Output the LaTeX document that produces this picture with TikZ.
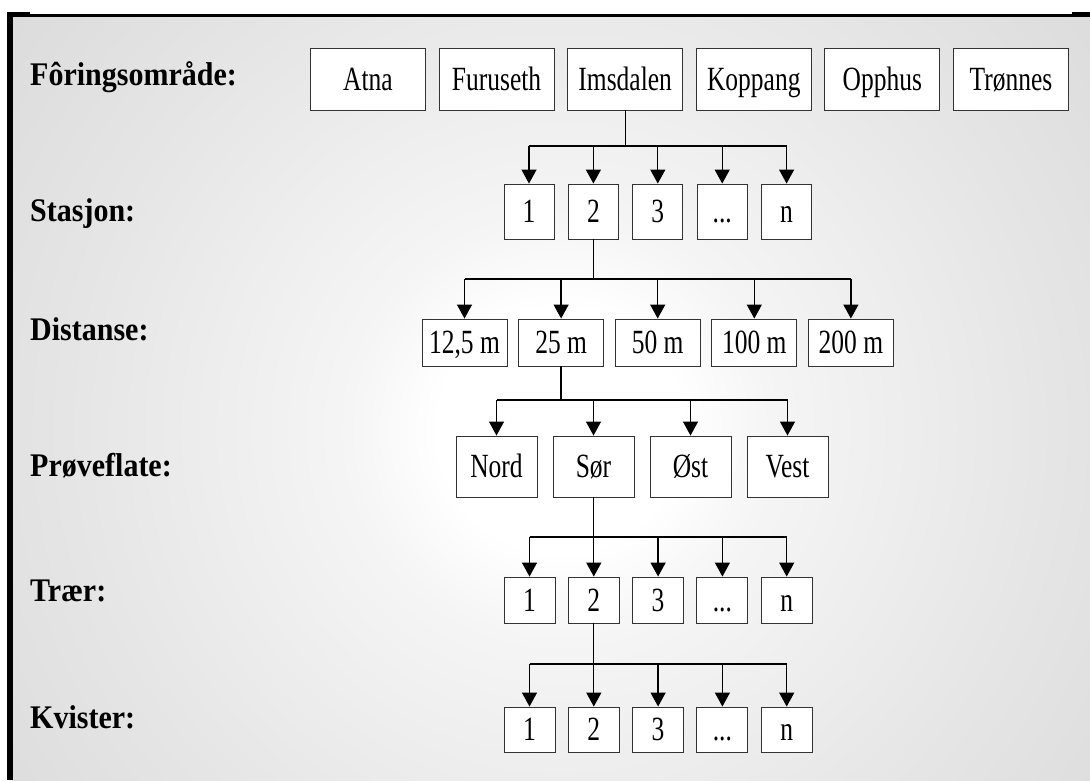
\documentclass[tikz,border=0pt]{standalone}
\usepackage{fontspec}
\setmainfont{Liberation Serif}
\usetikzlibrary{arrows.meta}
\newcommand\tdots{...}
\newcommand\bxt[1]{\scalebox{1}[1.33]{#1}}
\newcommand\lbt[1]{\scalebox{1}[1.1]{#1}}
\pgfdeclareradialshading{bgrings}{\pgfpoint{0bp}{0bp}}{%
  color(0bp)=(white);
  color(4bp)=(white);
  color(7bp)=(black!4);
  color(16bp)=(black!10);
  color(28bp)=(black!17);
  color(45bp)=(black!24);
  color(50bp)=(black!25)}
\tikzset{
  box/.style={draw=black!80, line width=0.9pt, fill=white, inner sep=0pt,
    text height=22.3pt, text depth=0pt,
    font=\fontsize{25.5}{30}\selectfont},
  lvl/.style={anchor=base west, inner sep=0pt, font=\fontsize{30}{36}\selectfont\bfseries},
  conn/.style={line width=1.3pt, draw=black},
  arr/.style={conn, -{Triangle[width=15pt,length=14pt]}}
}
\begin{document}
\begin{tikzpicture}[x=1pt,y=-1pt]
\useasboundingbox (0,0) rectangle (1090,780);
% background
\begin{scope}
  \clip (12,16.5) rectangle (1090,780);
  \shade[shading=bgrings] (560,430) circle (760);
\end{scope}
% frame
\fill[black] (7,12) rectangle (12.5,780);
\fill[black] (7,12) rectangle (30,16.5);
\fill[black] (12,14) rectangle (1090,16.5);
\fill[black] (1072,12) rectangle (1090,16.5);

% level labels
\node[lvl] (l1) at (30,85) {\lbt{Fôringsområde:}};
\node[lvl] (l2) at (30,221) {\lbt{Stasjon:}};
\node[lvl] (l3) at (30,340) {\lbt{Distanse:}};
\node[lvl] (l4) at (30,476) {\lbt{Prøveflate:}};
\node[lvl] (l5) at (30,601) {\lbt{Trær:}};
\node[lvl] (l6) at (30,728) {\lbt{Kvister:}};

% row 1
\foreach \n/\t [count=\i from 0] in {a1/Atna,a2/Furuseth,a3/Imsdalen,a4/Koppang,a5/Opphus,a6/Trønnes}
  \node[box, minimum width=115pt, minimum height=62pt] (\n) at (368+128.6*\i,79) {\bxt{\t}};

% row 2
\foreach \n/\t [count=\i from 0] in {s1/1,s2/2,s3/3,s4/\tdots,s5/n}
  \node[box, minimum width=50pt, minimum height=55pt] (\n) at (529+64.4*\i,211.5) {\bxt{\t}};

% row 3
\foreach \n/\t [count=\i from 0] in {d1/{12,5 m},d2/25 m,d3/50 m,d4/100 m,d5/200 m}
  \node[box, minimum width=85pt, minimum height=47pt] (\n) at (464.5+96.6*\i,342.5) {\bxt{\t}};

% row 4
\foreach \n/\t [count=\i from 0] in {p1/Nord,p2/Sør,p3/Øst,p4/Vest}
  \node[box, minimum width=81pt, minimum height=61pt] (\n) at (496.5+97*\i,466.5) {\bxt{\t}};

% row 5
\foreach \n/\t [count=\i from 0] in {t1/1,t2/2,t3/3,t4/\tdots,t5/n}
  \node[box, minimum width=51pt, minimum height=46pt] (\n) at (529.5+64.3*\i,600) {\bxt{\t}};

% row 6
\foreach \n/\t [count=\i from 0] in {k1/1,k2/2,k3/3,k4/\tdots,k5/n}
  \node[box, minimum width=51pt, minimum height=45pt] (\n) at (529.5+64.3*\i,729.5) {\bxt{\t}};

% buses
\coordinate (b1) at (0,146);
\coordinate (b2) at (0,279);
\coordinate (b3) at (0,400);
\coordinate (b4) at (0,537);
\coordinate (b5) at (0,664);

\draw[conn] (a3.south) -- (a3.south |- b1);
\draw[conn] (s1.north |- b1) -- (s5.north |- b1);
\foreach \c in {s1,s2,s3,s4,s5} \draw[arr] (\c.north |- b1) -- (\c.north);

\draw[conn] (s2.south) -- (s2.south |- b2);
\draw[conn] (d1.north |- b2) -- (d5.north |- b2);
\foreach \c in {d1,d2,d3,d4,d5} \draw[arr] (\c.north |- b2) -- (\c.north);

\draw[conn] (d2.south) -- (d2.south |- b3);
\draw[conn] (p1.north |- b3) -- (p4.north |- b3);
\foreach \c in {p1,p2,p3,p4} \draw[arr] (\c.north |- b3) -- (\c.north);

\draw[conn] (p2.south) -- (p2.south |- b4);
\draw[conn] (t1.north |- b4) -- (t5.north |- b4);
\foreach \c in {t1,t2,t3,t4,t5} \draw[arr] (\c.north |- b4) -- (\c.north);

\draw[conn] (t2.south) -- (t2.south |- b5);
\draw[conn] (k1.north |- b5) -- (k5.north |- b5);
\foreach \c in {k1,k2,k3,k4,k5} \draw[arr] (\c.north |- b5) -- (\c.north);
\end{tikzpicture}
\end{document}
